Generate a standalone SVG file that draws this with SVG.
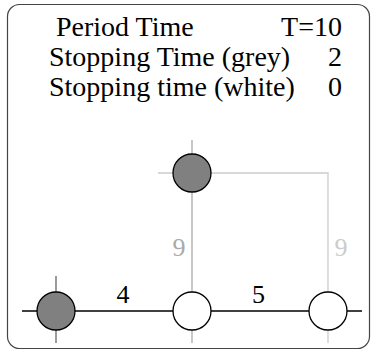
<svg xmlns="http://www.w3.org/2000/svg" width="374" height="358" viewBox="0 0 374 358">
<style>
.t{font-size:28px;fill:#000;font-family:'Liberation Serif','Times New Roman',Times,'Noto Serif','DejaVu Serif',serif;}
.lbl{font-size:26px;text-anchor:middle;font-family:'Liberation Serif','Times New Roman',Times,'Noto Serif','DejaVu Serif',serif;}
.node{stroke:#000;stroke-width:1.3;}
.grey{fill:#808080;}
.white{fill:#fff;}
</style>
<rect x="7.5" y="4.5" width="362" height="344" rx="12" ry="12" fill="#fff" stroke="#444" stroke-width="1.2"/>
<g id="legend">
<text class="t" x="56" y="36">Period Time</text>
<text class="t" x="342" y="36" text-anchor="end">T=10</text>
<text class="t" x="49" y="66">Stopping Time (grey)</text>
<text class="t" x="342" y="66" text-anchor="end">2</text>
<text class="t" x="49" y="96">Stopping time (white)</text>
<text class="t" x="342" y="96" text-anchor="end">0</text>
</g>
<g id="connectors" fill="none">
<path d="M158 173H328V343" stroke="#ccc" stroke-width="1.3"/>
<path d="M192 140V343" stroke="#aaa" stroke-width="1.3"/>
<path d="M56 276V343" stroke="#666" stroke-width="1.3"/>
<path d="M22 311H362" stroke="#000" stroke-width="1.3"/>
<text class="lbl" x="123" y="303" fill="#000">4</text>
<text class="lbl" x="258.5" y="303" fill="#000">5</text>
<text class="lbl" x="179" y="256" fill="#aaa">9</text>
<text class="lbl" x="341" y="256" fill="#ccc">9</text>
</g>
<g id="n1"><circle class="node grey" cx="56" cy="311" r="19"/></g>
<g id="n2"><circle class="node white" cx="192" cy="311" r="19"/></g>
<g id="n3"><circle class="node white" cx="328" cy="311" r="19"/></g>
<g id="n4"><circle class="node grey" cx="192" cy="173" r="19"/></g>
</svg>
